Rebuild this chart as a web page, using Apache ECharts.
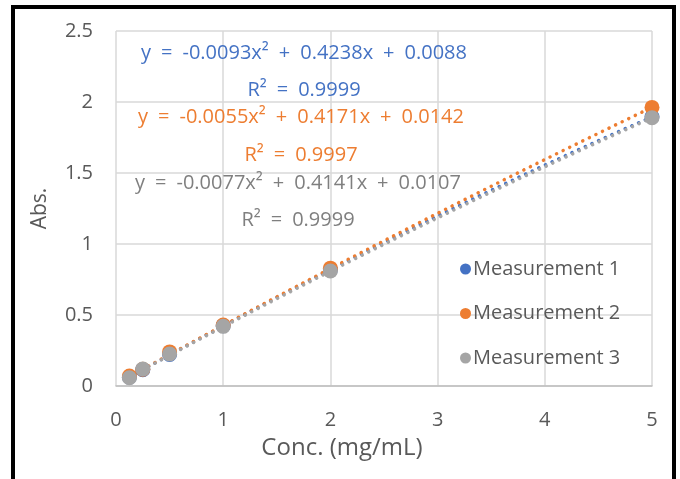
<!DOCTYPE html>
<html>
<head>
<meta charset="utf-8">
<script src="https://cdn.jsdelivr.net/npm/echarts@6/dist/echarts.min.js"></script>
<style>
html,body{margin:0;padding:0;background:#fff;}
#chart{width:680px;height:479px;}
</style>
</head>
<body>
<div id="chart"></div>
<script>
// ---- data ----
const concentrations = [0.125, 0.25, 0.5, 1, 2, 5];
const seriesNames = ['Measurement 1', 'Measurement 2', 'Measurement 3'];
const measurement1 = [0.062, 0.115, 0.222, 0.425, 0.818, 1.896];
const measurement2 = [0.070, 0.118, 0.240, 0.430, 0.830, 1.962];
const measurement3 = [0.058, 0.120, 0.225, 0.420, 0.810, 1.889];
// trendline coefficients [a, b, c] of y = a x^2 + b x + c
const trend1 = [-0.0093, 0.4238, 0.0088];
const trend2 = [-0.0055, 0.4171, 0.0142];
const trend3 = [-0.0077, 0.4141, 0.0107];
const equations = [
  'y\u2002=\u2002-0.0093x²\u2002+\u20020.4238x\u2002+\u20020.0088',
  'y\u2002=\u2002-0.0055x²\u2002+\u20020.4171x\u2002+\u20020.0142',
  'y\u2002=\u2002-0.0077x²\u2002+\u20020.4141x\u2002+\u20020.0107'
];
const rSquared = ['R²\u2002=\u20020.9999', 'R²\u2002=\u20020.9997', 'R²\u2002=\u20020.9999'];
const xTicks = [0, 1, 2, 3, 4, 5];
const yTicks = [0, 0.5, 1, 1.5, 2, 2.5];

const colors = ['#4472C4', '#ED7D31', '#A5A5A5'];
const textColors = ['#4472C4', '#ED7D31', '#7F7F7F'];
const FONT = 'Open Sans';

function trendPoints(coef) {
  const pts = [];
  const x0 = concentrations[0], x1 = concentrations[concentrations.length - 1];
  const n = 60;
  for (let i = 0; i <= n; i++) {
    const x = x0 + (x1 - x0) * i / n;
    pts.push([x, coef[0] * x * x + coef[1] * x + coef[2]]);
  }
  return pts;
}

const measurements = [measurement1, measurement2, measurement3];
const trends = [trend1, trend2, trend3];

const series = [];
trends.forEach((t, i) => {
  series.push({
    type: 'line',
    name: 'trend' + (i + 1),
    data: trendPoints(t),
    showSymbol: false,
    symbol: 'none',
    smooth: false,
    z: 2,
    silent: true,
    lineStyle: { color: colors[i], width: 3.5, type: [0.1, 7.2], cap: 'round' }
  });
});
measurements.forEach((m, i) => {
  series.push({
    type: 'scatter',
    name: seriesNames[i],
    data: concentrations.map((x, j) => [x, m[j]]),
    symbol: 'circle',
    symbolSize: 15,
    z: 3,
    itemStyle: { color: colors[i], opacity: 1 }
  });
});

const chart = echarts.init(document.getElementById('chart'), null, { renderer: 'canvas' });

const eqPos = [
  { cx: 304, y1: 53, y2: 90 },
  { cx: 301, y1: 117, y2: 155 },
  { cx: 298, y1: 183, y2: 220 }
];
const graphics = [
  {
    type: 'rect',
    shape: { x: 13, y: 7, width: 661, height: 520 },
    style: { fill: 'none', stroke: '#000', lineWidth: 4 },
    z: 100
  }
];
equations.forEach((eq, i) => {
  graphics.push({
    type: 'text', x: eqPos[i].cx, y: eqPos[i].y1,
    style: { text: eq, fill: textColors[i], font: '20px "' + FONT + '"', align: 'center', verticalAlign: 'middle' },
    z: 50
  });
  graphics.push({
    type: 'text', x: eqPos[i].cx, y: eqPos[i].y2,
    style: { text: rSquared[i], fill: textColors[i], font: '20px "' + FONT + '"', align: 'center', verticalAlign: 'middle' },
    z: 50
  });
});

chart.setOption({
  backgroundColor: '#fff',
  animation: false,
  textStyle: { fontFamily: FONT },
  grid: { left: 116, right: 28, top: 31, bottom: 93, containLabel: false },
  xAxis: {
    type: 'value', min: xTicks[0], max: xTicks[xTicks.length - 1], interval: 1,
    name: 'Conc. (mg/mL)', nameLocation: 'middle', nameGap: 50,
    nameTextStyle: { fontSize: 24, color: '#595959', fontFamily: FONT, padding: [0, 84, 0, 0] },
    axisLine: { show: true, lineStyle: { color: '#BFBFBF', width: 1.5 } },
    axisTick: { show: false },
    axisLabel: { fontSize: 20, color: '#595959', margin: 24, fontFamily: FONT },
    splitLine: { show: true, lineStyle: { color: '#D9D9D9', width: 1.5 } }
  },
  yAxis: {
    type: 'value', min: yTicks[0], max: yTicks[yTicks.length - 1], interval: 0.5,
    name: 'Abs.', nameLocation: 'middle', nameGap: 65, nameRotate: 90,
    nameTextStyle: { fontSize: 21, color: '#595959', fontFamily: FONT },
    axisLine: { show: false },
    axisTick: { show: false },
    axisLabel: { fontSize: 20, color: '#595959', margin: 23, fontFamily: FONT },
    splitLine: { show: true, lineStyle: { color: '#D9D9D9', width: 1.5 } }
  },
  legend: {
    data: seriesNames,
    orient: 'vertical',
    left: 455, top: 254,
    icon: 'circle', itemWidth: 11, itemHeight: 11,
    itemGap: 24.5,
    textStyle: { fontSize: 20, color: '#595959', lineHeight: 20, fontFamily: FONT, padding: [0, 0, 0, -3] },
    selectedMode: false
  },
  graphic: graphics,
  series: series
});
</script>
</body>
</html>
